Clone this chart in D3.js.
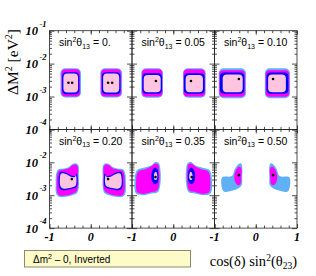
<!DOCTYPE html>
<html>
<head>
<meta charset="utf-8">
<script src="https://cdn.jsdelivr.net/npm/d3@7"></script>
<style>
  body { margin: 0; background: #fff; }
</style>
</head>
<body>
<svg id="chart" width="316" height="276"></svg>
<script>
// one panel per sin^2(theta13) value
let thetaLabels = ["0.", "0.05", "0.10", "0.20", "0.35", "0.50"];
let yExponents = [-1, -2, -3, -4];

// allowed regions as rounded boxes: [panel, level, x0, x1, log10 dM2 low, log10 dM2 high]
// level 0 = 99%, 1 = 95%, 2 = 90%, 3 = inner
let boxRegions = [
  [0, 0, -0.735, -0.236, -3.03, -2.14], [0, 1, -0.711, -0.260, -3.00, -2.17],
  [0, 2, -0.694, -0.277, -2.93, -2.26], [0, 3, -0.663, -0.308, -2.88, -2.30],
  [0, 0, 0.23, 0.76, -3.03, -2.14], [0, 1, 0.25, 0.735, -3.00, -2.17],
  [0, 2, 0.27, 0.72, -2.93, -2.26], [0, 3, 0.30, 0.69, -2.88, -2.30],

  [1, 0, -0.775, -0.248, -3.035, -2.14], [1, 1, -0.758, -0.265, -3.00, -2.17],
  [1, 2, -0.750, -0.273, -2.92, -2.29], [1, 3, -0.716, -0.304, -2.87, -2.345],
  [1, 0, 0.236, 0.787, -3.035, -2.14], [1, 1, 0.25, 0.77, -3.00, -2.17],
  [1, 2, 0.26, 0.76, -2.92, -2.29], [1, 3, 0.30, 0.72, -2.87, -2.345],

  [2, 0, -0.898, -0.236, -3.05, -2.14], [2, 1, -0.884, -0.261, -3.01, -2.20],
  [2, 2, -0.867, -0.278, -2.92, -2.27], [2, 3, -0.801, -0.316, -2.87, -2.33],
  [2, 0, 0.22, 0.83, -3.05, -2.14], [2, 1, 0.24, 0.81, -3.01, -2.20],
  [2, 2, 0.26, 0.79, -2.92, -2.27], [2, 3, 0.30, 0.73, -2.87, -2.33]
];

// irregular regions: [panel, level, [[x, log10 dM2], ...]]
let shapeRegions = [
  [3, 0, [[-0.84,-2.36],[-0.79,-2.22],[-0.65,-2.19],[-0.53,-2.14],[-0.45,-2.06],[-0.37,-2.03],[-0.30,-2.09],[-0.29,-2.44],[-0.29,-2.75],[-0.33,-2.93],[-0.45,-3.00],[-0.61,-3.05],[-0.77,-3.05],[-0.84,-2.95],[-0.85,-2.64]]],
  [3, 1, [[-0.81,-2.37],[-0.77,-2.26],[-0.64,-2.22],[-0.52,-2.17],[-0.45,-2.09],[-0.37,-2.07],[-0.32,-2.12],[-0.31,-2.44],[-0.31,-2.73],[-0.35,-2.89],[-0.45,-2.96],[-0.61,-3.01],[-0.76,-3.01],[-0.81,-2.92],[-0.825,-2.64]]],
  [3, 2, [[-0.74,-2.30],[-0.60,-2.32],[-0.48,-2.40],[-0.38,-2.41],[-0.34,-2.34],[-0.32,-2.60],[-0.35,-2.76],[-0.52,-2.82],[-0.68,-2.85],[-0.76,-2.77],[-0.78,-2.53]]],
  [3, 3, [[-0.715,-2.34],[-0.59,-2.36],[-0.48,-2.44],[-0.39,-2.45],[-0.36,-2.39],[-0.345,-2.60],[-0.375,-2.72],[-0.52,-2.78],[-0.67,-2.80],[-0.735,-2.73],[-0.75,-2.54]]],
  [3, 0, [[0.84,-2.36],[0.79,-2.22],[0.65,-2.19],[0.53,-2.14],[0.45,-2.06],[0.37,-2.03],[0.30,-2.09],[0.29,-2.44],[0.29,-2.75],[0.33,-2.93],[0.45,-3.00],[0.61,-3.05],[0.77,-3.05],[0.84,-2.95],[0.85,-2.64]]],
  [3, 1, [[0.81,-2.37],[0.77,-2.26],[0.64,-2.22],[0.52,-2.17],[0.45,-2.09],[0.37,-2.07],[0.32,-2.12],[0.31,-2.44],[0.31,-2.73],[0.35,-2.89],[0.45,-2.96],[0.61,-3.01],[0.76,-3.01],[0.81,-2.92],[0.825,-2.64]]],
  [3, 2, [[0.74,-2.30],[0.60,-2.32],[0.48,-2.40],[0.38,-2.41],[0.34,-2.34],[0.32,-2.60],[0.35,-2.76],[0.52,-2.82],[0.68,-2.85],[0.76,-2.77],[0.78,-2.53]]],
  [3, 3, [[0.715,-2.34],[0.59,-2.36],[0.48,-2.44],[0.39,-2.45],[0.36,-2.39],[0.345,-2.60],[0.375,-2.72],[0.52,-2.78],[0.67,-2.80],[0.735,-2.73],[0.75,-2.54]]],

  [4, 0, [[-0.88,-2.24],[-0.69,-2.16],[-0.53,-2.09],[-0.43,-1.99],[-0.35,-2.02],[-0.31,-2.24],[-0.31,-2.64],[-0.37,-2.90],[-0.53,-2.95],[-0.73,-3.00],[-0.90,-2.95],[-0.94,-2.59]]],
  [4, 1, [[-0.85,-2.28],[-0.68,-2.21],[-0.54,-2.13],[-0.44,-2.04],[-0.37,-2.06],[-0.34,-2.26],[-0.34,-2.63],[-0.39,-2.86],[-0.54,-2.91],[-0.73,-2.96],[-0.87,-2.91],[-0.90,-2.59]]],
  [4, 2, [[-0.52,-2.30],[-0.46,-2.17],[-0.39,-2.20],[-0.36,-2.40],[-0.38,-2.62],[-0.45,-2.66],[-0.52,-2.55]]],
  [4, 3, [[-0.46,-2.34],[-0.42,-2.29],[-0.39,-2.38],[-0.40,-2.52],[-0.45,-2.53]]],
  [4, 0, [[0.88,-2.24],[0.69,-2.16],[0.53,-2.09],[0.43,-1.99],[0.35,-2.02],[0.31,-2.24],[0.31,-2.64],[0.37,-2.90],[0.53,-2.95],[0.73,-3.00],[0.90,-2.95],[0.94,-2.59]]],
  [4, 1, [[0.85,-2.28],[0.68,-2.21],[0.54,-2.13],[0.44,-2.04],[0.37,-2.06],[0.34,-2.26],[0.34,-2.63],[0.39,-2.86],[0.54,-2.91],[0.73,-2.96],[0.87,-2.91],[0.90,-2.59]]],
  [4, 2, [[0.52,-2.30],[0.46,-2.17],[0.39,-2.20],[0.36,-2.40],[0.38,-2.62],[0.45,-2.66],[0.52,-2.55]]],
  [4, 3, [[0.46,-2.34],[0.42,-2.29],[0.39,-2.38],[0.40,-2.52],[0.45,-2.53]]],

  [5, 0, [[-0.83,-2.49],[-0.79,-2.44],[-0.58,-2.42],[-0.50,-2.19],[-0.42,-2.06],[-0.36,-2.03],[-0.33,-2.12],[-0.33,-2.44],[-0.34,-2.69],[-0.42,-2.79],[-0.54,-2.85],[-0.75,-2.90],[-0.81,-2.82]]],
  [5, 1, [[-0.52,-2.40],[-0.47,-2.22],[-0.40,-2.13],[-0.35,-2.18],[-0.35,-2.45],[-0.37,-2.66],[-0.43,-2.70],[-0.50,-2.60]]],
  [5, 0, [[0.83,-2.49],[0.79,-2.44],[0.58,-2.42],[0.50,-2.19],[0.42,-2.06],[0.36,-2.03],[0.33,-2.12],[0.33,-2.44],[0.34,-2.69],[0.42,-2.79],[0.54,-2.85],[0.75,-2.90],[0.81,-2.82]]],
  [5, 1, [[0.52,-2.40],[0.47,-2.22],[0.40,-2.13],[0.35,-2.18],[0.35,-2.45],[0.37,-2.66],[0.43,-2.70],[0.50,-2.60]]]
];

// best fit points: [panel, x, log10 dM2]
let bestFits = [
  [0, -0.54, -2.58], [0, -0.45, -2.58], [0, 0.42, -2.58], [0, 0.52, -2.58],
  [1, -0.42, -2.53], [1, 0.43, -2.53],
  [2, -0.41, -2.47], [2, 0.42, -2.47],
  [3, -0.46, -2.51], [3, 0.42, -2.51],
  [4, -0.43, -2.45], [4, 0.45, -2.45],
  [5, -0.41, -2.39], [5, 0.42, -2.39]
];

let levelColors = ["#5fb0f5", "#ff00ff", "#0000ff", "#ffc4e0"];
let gridLeft = 49.5, gridTop = 30.7, panelW = 82.5, panelH = 98.7;
let serif = "'Liberation Serif', 'Times New Roman', serif";
let sans = "'Liberation Sans', Arial, sans-serif";

let svg = d3.select("#chart");

let decades = yExponents.map(e => Math.pow(10, e));
let yMinor = [];
for (let e = -4; e < -1; e++) {
  for (let m = 2; m <= 9; m++) yMinor.push(m * Math.pow(10, e));
}
let xMajor = [-1, 0, 1];
let xMinor = d3.range(-0.8, 0.81, 0.2);

let drawTicks = (g, axis) => {
  g.call(axis).call(s => s.select(".domain").remove());
  g.selectAll("line").attr("stroke", "#222").attr("stroke-width", 0.8);
};

thetaLabels.forEach((label, i) => {
  let col = i % 3, row = Math.floor(i / 3);
  let x0 = gridLeft + col * panelW, x1 = x0 + panelW;
  let y0 = gridTop + row * panelH, y1 = y0 + panelH;
  let x = d3.scaleLinear().domain([-1, 1]).range([x0, x1]);
  let y = d3.scaleLog().domain([1e-4, 1e-1]).range([y1, y0]);

  let clipId = "clip" + i;
  svg.append("clipPath").attr("id", clipId)
     .append("rect").attr("x", x0).attr("y", y0).attr("width", panelW).attr("height", panelH);
  let plot = svg.append("g").attr("clip-path", "url(#" + clipId + ")");

  boxRegions.filter(d => d[0] === i).forEach(d => {
    plot.append("rect")
        .attr("x", x(d[2]))
        .attr("width", x(d[3]) - x(d[2]))
        .attr("y", y(Math.pow(10, d[5])))
        .attr("height", y(Math.pow(10, d[4])) - y(Math.pow(10, d[5])))
        .attr("rx", d[1] === 0 ? 5 : 4)
        .attr("fill", levelColors[d[1]]);
  });

  let line = d3.line()
               .x(p => x(p[0]))
               .y(p => y(Math.pow(10, p[1])))
               .curve(d3.curveCatmullRomClosed.alpha(0.5));
  shapeRegions.filter(d => d[0] === i).forEach(d => {
    plot.append("path").attr("d", line(d[2])).attr("fill", levelColors[d[1]]);
  });

  plot.selectAll("circle.best")
      .data(bestFits.filter(d => d[0] === i))
      .enter()
      .append("circle")
      .attr("cx", d => x(d[1]))
      .attr("cy", d => y(Math.pow(10, d[2])))
      .attr("r", 1.3)
      .attr("fill", "#000");

  // inward ticks on all four sides, ROOT style
  drawTicks(svg.append("g").attr("transform", "translate(" + x0 + ",0)"),
    d3.axisRight(y).tickValues(decades).tickSize(5).tickSizeOuter(0).tickFormat(""));
  drawTicks(svg.append("g").attr("transform", "translate(" + x0 + ",0)"),
    d3.axisRight(y).tickValues(yMinor).tickSize(2.5).tickSizeOuter(0).tickFormat(""));
  drawTicks(svg.append("g").attr("transform", "translate(" + x1 + ",0)"),
    d3.axisLeft(y).tickValues(decades).tickSize(5).tickSizeOuter(0).tickFormat(""));
  drawTicks(svg.append("g").attr("transform", "translate(" + x1 + ",0)"),
    d3.axisLeft(y).tickValues(yMinor).tickSize(2.5).tickSizeOuter(0).tickFormat(""));
  drawTicks(svg.append("g").attr("transform", "translate(0," + y1 + ")"),
    d3.axisTop(x).tickValues(xMajor).tickSize(4).tickSizeOuter(0).tickFormat(""));
  drawTicks(svg.append("g").attr("transform", "translate(0," + y1 + ")"),
    d3.axisTop(x).tickValues(xMinor).tickSize(2.5).tickSizeOuter(0).tickFormat(""));
  drawTicks(svg.append("g").attr("transform", "translate(0," + y0 + ")"),
    d3.axisBottom(x).tickValues(xMajor).tickSize(4).tickSizeOuter(0).tickFormat(""));
  drawTicks(svg.append("g").attr("transform", "translate(0," + y0 + ")"),
    d3.axisBottom(x).tickValues(xMinor).tickSize(2.5).tickSizeOuter(0).tickFormat(""));

  svg.append("rect")
     .attr("x", x0).attr("y", y0).attr("width", panelW).attr("height", panelH)
     .attr("fill", "none").attr("stroke", "#222").attr("stroke-width", 0.8);

  // panel caption
  let cap = svg.append("text")
               .attr("x", x0 + 9.5).attr("y", y0 + 15.5)
               .style("font-family", sans).style("font-size", "10.5px");
  cap.append("tspan").text("sin");
  cap.append("tspan").attr("dy", -4).style("font-size", "7px").text("2");
  cap.append("tspan").attr("dy", 4).text("θ");
  cap.append("tspan").attr("dy", 2.5).style("font-size", "7px").text("13");
  cap.append("tspan").attr("dy", -2.5).text(" = " + label);

  // y labels on the first column
  if (col === 0) {
    yExponents.filter(e => row === 0 || e !== -1).forEach(e => {
      let yy = y(Math.pow(10, e));
      svg.append("text")
         .attr("x", 38).attr("y", yy + 4.5)
         .attr("text-anchor", "end")
         .style("font-family", serif).style("font-weight", "bold").style("font-style", "italic")
         .style("font-size", "12.5px")
         .text("10");
      svg.append("text")
         .attr("x", 39.5).attr("y", yy - 4)
         .style("font-family", serif).style("font-weight", "bold").style("font-style", "italic")
         .style("font-size", "8.5px")
         .text(e);
    });
  }

  // x labels on the bottom row
  if (row === 1) {
    let vals = col === 2 ? [-1, 0, 1] : [-1, 0];
    vals.forEach(v => {
      svg.append("text")
         .attr("x", x(v)).attr("y", y1 + 13)
         .attr("text-anchor", "middle")
         .style("font-family", serif).style("font-weight", "bold").style("font-style", "italic")
         .style("font-size", "12px")
         .text(v);
    });
  }
});

// axis titles
let yTitle = svg.append("text")
                .attr("transform", "translate(18,62) rotate(-90)")
                .attr("text-anchor", "middle")
                .style("font-family", serif).style("font-size", "15.5px");
yTitle.append("tspan").text("ΔM");
yTitle.append("tspan").attr("dy", -6).style("font-size", "10px").text("2");
yTitle.append("tspan").attr("dy", 6).text(" [eV");
yTitle.append("tspan").attr("dy", -6).style("font-size", "10px").text("2");
yTitle.append("tspan").attr("dy", 6).text("]");

let xTitle = svg.append("text")
                .attr("x", 297).attr("y", 266)
                .attr("text-anchor", "end")
                .style("font-family", serif).style("font-size", "14.5px");
xTitle.append("tspan").text("cos(δ) sin");
xTitle.append("tspan").attr("dy", -5).style("font-size", "9.5px").text("2");
xTitle.append("tspan").attr("dy", 5).text("(θ");
xTitle.append("tspan").attr("dy", 3).style("font-size", "9.5px").text("23");
xTitle.append("tspan").attr("dy", -3).text(")");

// legend box
svg.append("rect")
   .attr("x", 24.5).attr("y", 250.5).attr("width", 166).attr("height", 16.5)
   .attr("fill", "#fdfcc8").attr("stroke", "#8a8a70").attr("stroke-width", 1);
let leg = svg.append("text")
             .attr("x", 33).attr("y", 262.5)
             .style("font-family", sans).style("font-size", "10px");
leg.append("tspan").text("Δm");
leg.append("tspan").attr("dy", -3.5).style("font-size", "7px").text("2");
leg.append("tspan").attr("dy", 3.5).text(" – 0, Inverted");
</script>
</body>
</html>
